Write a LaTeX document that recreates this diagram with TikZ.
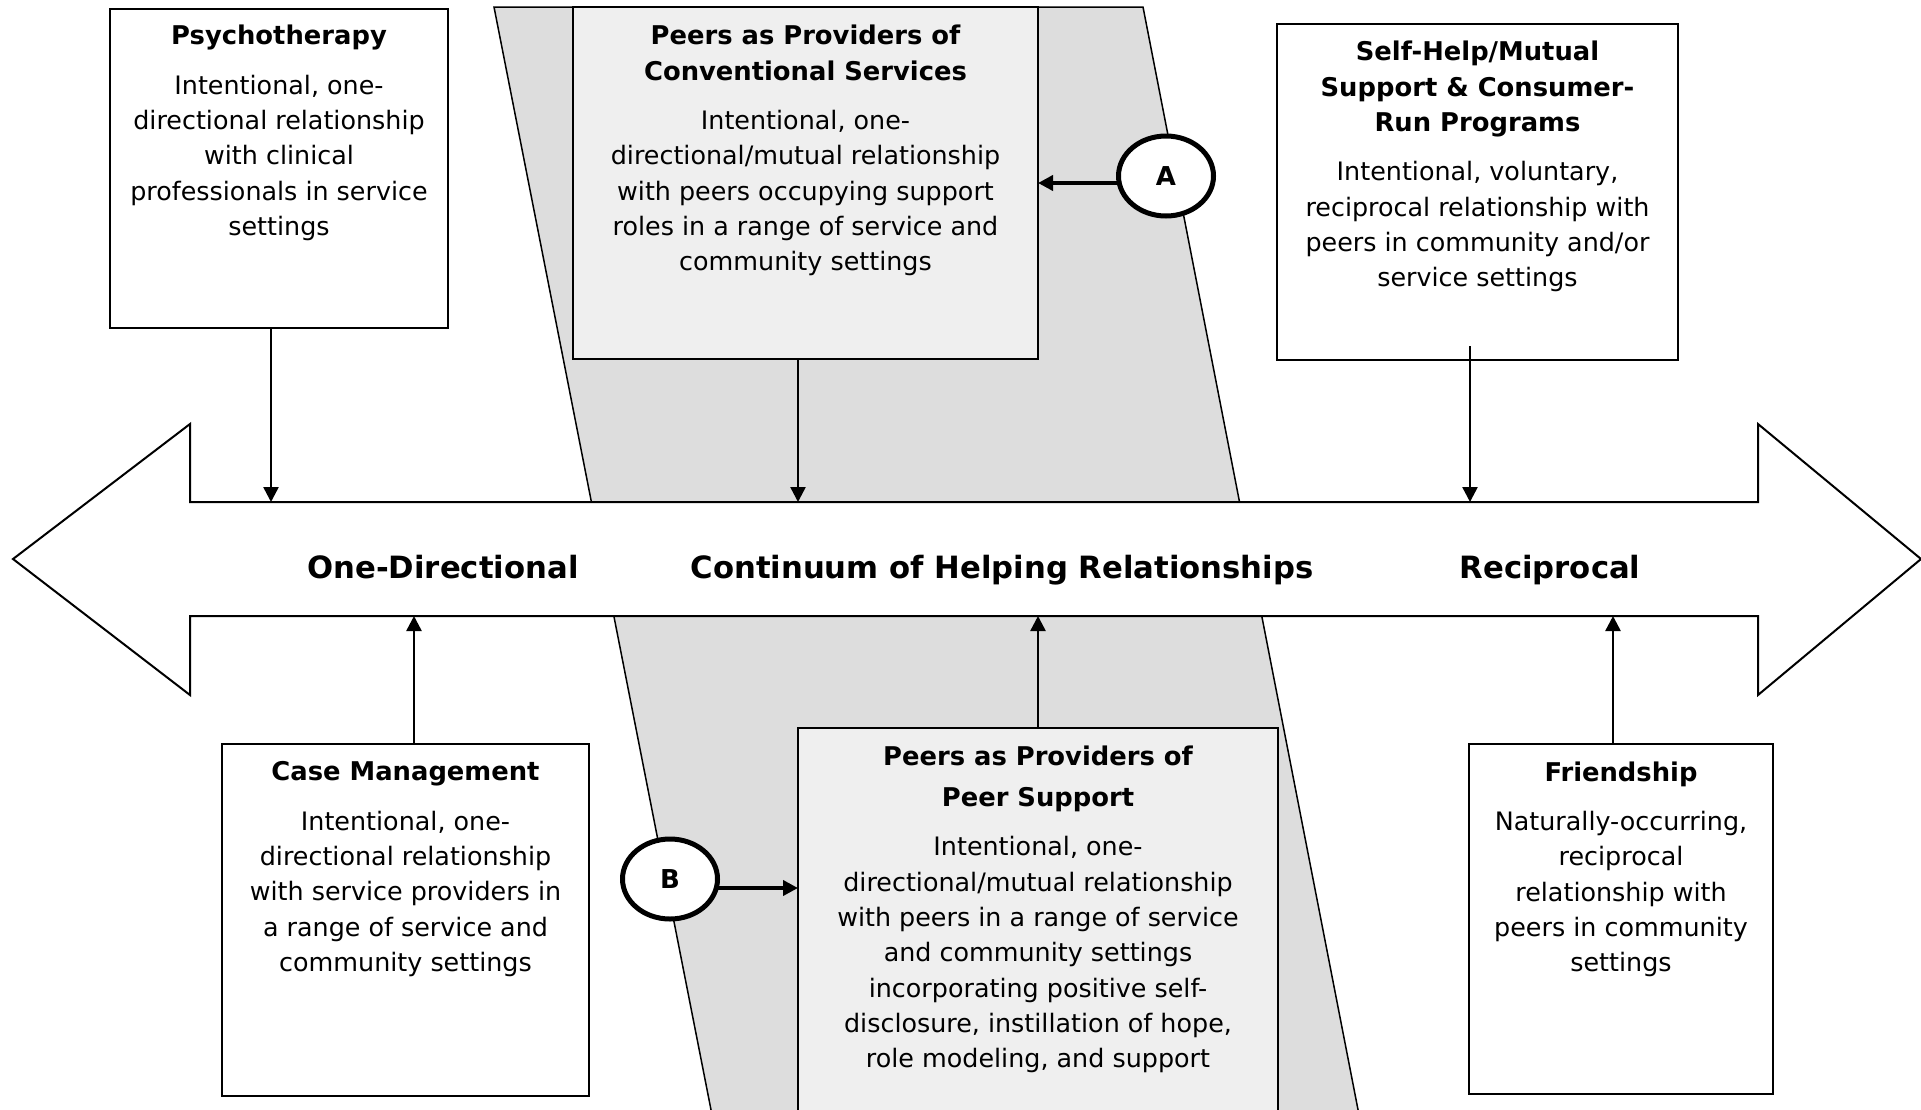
\documentclass[tikz,border=0pt]{standalone}
\usepackage{fontspec}
\setmainfont{DejaVu Sans}
\usetikzlibrary{arrows.meta,shapes.geometric,calc}
\newcommand\bodyfont{\fontsize{25.4}{35.3}\selectfont}
\newcommand\ttlfont{\fontsize{25.8}{35.3}\selectfont\bfseries}
\newcommand\axisfont{\fontsize{30.7}{36}\selectfont\bfseries}
\newcommand\badgefont{\fontsize{26}{30}\selectfont\bfseries}
\definecolor{bandgray}{RGB}{221,221,221}
\definecolor{peerfill}{RGB}{239,239,239}
\begin{document}
\begin{tikzpicture}[x=1pt,y=-1pt,
  box/.style={draw, line width=2pt, fill=white, inner sep=0pt, outer sep=0pt},
  peerbox/.style={box, fill=peerfill},
  txt/.style={anchor=north, align=center, inner sep=0pt, font=\bodyfont},
  axislabel/.style={anchor=base, inner sep=0pt, font=\axisfont},
  conn/.style={line width=2.5pt, -{Triangle[length=15pt,width=15pt]}},
  markconn/.style={line width=4pt, -{Triangle[length=15pt,width=15pt]}},
  badge/.style={draw, ellipse, line width=5pt, fill=white, minimum width=95pt,
    minimum height=80pt, inner sep=0pt, outer sep=0pt, font=\badgefont}
]
\useasboundingbox (0,0) rectangle (1921,1109);

% shaded band of peer-delivered services
\filldraw[fill=bandgray, draw=black, line width=1.5pt]
  (494,7) -- (1143,7) -- (1361,1125) -- (714,1125) -- cycle;

% double-headed continuum arrow
\draw[line width=2pt, fill=white]
  (13,559) -- (190,424) -- (190,502) -- (1758,502) -- (1758,424) -- (1921,559)
  -- (1758,695) -- (1758,616) -- (190,616) -- (190,695) -- cycle;

\node[axislabel] (lone) at (443,578) {One-Directional};
\node[axislabel] (lmid) at (1002,578) {Continuum of Helping Relationships};
\node[axislabel] (lrec) at (1550,578) {Reciprocal};

% connector end points on the arrow shaft
\coordinate (t1) at (271,502);
\coordinate (t2) at (798,502);
\coordinate (t3) at (1470,502);
\coordinate (b1) at (414,616);
\coordinate (b2) at (1038,616);
\coordinate (b3) at (1613,616);

% boxes
\node[box, minimum width=338pt, minimum height=319.5pt] (psy) at (279,168.25) {};
\node[peerbox, minimum width=465pt, minimum height=352pt] (conv) at (805.5,183) {};
\node[box, minimum width=401pt, minimum height=336.5pt] (self) at (1477.5,191.75) {};
\node[box, minimum width=367pt, minimum height=352pt] (case) at (405.5,920) {};
\node[peerbox, minimum width=480pt, minimum height=402pt] (peer) at (1038,929) {};
\node[box, minimum width=304pt, minimum height=350pt] (friend) at (1621,919) {};

% box texts
\node[txt] (psyt) at (279,25) {{\ttlfont Psychotherapy}\\[14pt]
  Intentional, one-\\directional relationship\\with clinical\\professionals in service\\settings};
\node[txt] (convt) at (805.5,25) {{\ttlfont Peers as Providers of}\\{\ttlfont Conventional Services}\\[14pt]
  Intentional, one-\\directional/mutual relationship\\with peers occupying support\\roles in a range of service and\\community settings};
\node[txt] (selft) at (1477.5,41) {{\ttlfont Self-Help/Mutual}\\{\ttlfont Support \& Consumer-}\\{\ttlfont Run Programs}\\[14pt]
  Intentional, voluntary,\\reciprocal relationship with\\peers in community and/or\\service settings};
\node[txt] (caset) at (405.5,761.5) {{\ttlfont Case Management}\\[14pt]
  Intentional, one-\\directional relationship\\with service providers in\\a range of service and\\community settings};
\node[txt] (peert) at (1038,745.5) {{\ttlfont Peers as Providers of}\\[6pt]{\ttlfont Peer Support}\\[14pt]
  Intentional, one-\\directional/mutual relationship\\with peers in a range of service\\and community settings\\incorporating positive self-\\disclosure, instillation of hope,\\role modeling, and support};
\node[txt] (friendt) at (1621,761.5) {{\ttlfont Friendship}\\[14pt]
  Naturally-occurring,\\reciprocal\\relationship with\\peers in community\\settings};

% connectors to the continuum
\draw[conn] (psy.south -| t1) -- (t1);
\draw[conn] (conv.south -| t2) -- (t2);
\draw[conn] ($(self.south -| t3)+(0,-14)$) -- (t3);
\draw[conn] (case.north -| b1) -- (b1);
\draw[conn] (peer.north -| b2) -- (b2);
\draw[conn] (friend.north -| b3) -- (b3);

% lettered markers
\node[badge] (A) at (1166,176) {A};
\node[badge] (B) at (670,879) {B};
\draw[markconn] ([yshift=-7pt]A.west) -- ([yshift=-7pt]A.west -| conv.east);
\draw[markconn] ([yshift=-9pt]B.east) -- ([yshift=-9pt]B.east -| peer.west);
\end{tikzpicture}
\end{document}
